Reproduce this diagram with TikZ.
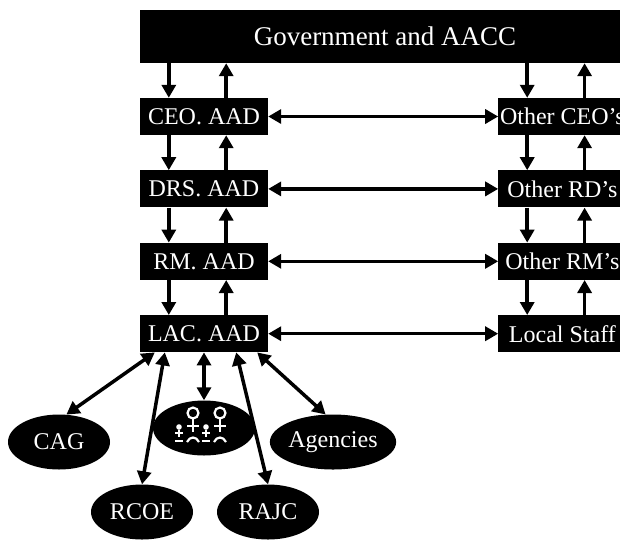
\documentclass[tikz,border=0pt]{standalone}
\usepackage{fontspec}
\setmainfont{Liberation Serif}
\usetikzlibrary{arrows.meta,positioning,shapes.geometric}

\tikzset{
  box/.style={fill=black,text=white,minimum width=128pt,minimum height=37pt,inner sep=0pt,font=\fontsize{24}{26}\selectfont},
  blob/.style={ellipse,fill=black,text=white,minimum width=102pt,minimum height=55pt,inner sep=0pt,font=\fontsize{24}{26}\selectfont},
  arr/.style={line width=3.5pt,-{Triangle[width=14pt,length=13pt]}},
  dbl/.style={line width=3.5pt,{Triangle[width=14pt,length=13pt]}-{Triangle[width=14pt,length=13pt]}}
}

\begin{document}
\begin{tikzpicture}[x=1pt,y=-1pt,node distance=35pt]
   \useasboundingbox (0,0) rectangle (620,539);
   \node[box,minimum width=490pt,minimum height=53pt,font=\fontsize{27}{30}\selectfont] (gov) at (385,36.5) {Government and AACC};
   \node[box] (ceo) at (204,116.5) {CEO. AAD};
   \node[box] (drs) [below=of ceo] {DRS. AAD};
   \node[box] (rm)  [below=of drs] {RM. AAD};
   \node[box] (lac) [below=of rm]  {LAC. AAD};
   \node[box] (oceo)  [right=230pt of ceo] {Other CEO’s};
   \node[box] (ord)   [right=230pt of drs] {Other RD’s};
   \node[box] (orm)   [right=230pt of rm]  {Other RM’s};
   \node[box] (staff) [right=230pt of lac] {Local Staff};
   % bottom row
   \node[blob] (cag)  at (59,442)  {CAG};
   \node[blob] (kids) at (204,428) {};
   \node[blob] (agc)  at (333,442) {Agencies};
   \node[blob] (rcoe) at (142,512) {RCOE};
   \node[blob] (rajc) at (268,512) {RAJC};
   % up and down the two columns
   \foreach \c in {ceo,oceo} {
     \draw[arr] ([xshift=29pt]\c.north west |- gov.south) -- ([xshift=29pt]\c.north west);
     \draw[arr] ([xshift=-42pt]\c.north east) -- ([xshift=-42pt]\c.north east |- gov.south);
   }
   \foreach \a/\b in {ceo/drs,drs/rm,rm/lac,oceo/ord,ord/orm,orm/staff} {
     \draw[arr] ([xshift=29pt]\a.south west) -- ([xshift=29pt]\b.north west);
     \draw[arr] ([xshift=-42pt]\b.north east) -- ([xshift=-42pt]\a.south east);
   }
    \path[dbl]
    (ceo) edge (oceo)
    (drs) edge (ord)
    (rm)  edge (orm)
    (lac) edge (staff);
   \draw[dbl] ([xshift=15pt]lac.south west) -- (cag.75);
   \draw[dbl] ([xshift=25pt]lac.south west) -- (rcoe.north);
   \draw[dbl] (lac.south) -- (kids.north);
   \draw[dbl] ([xshift=-32pt]lac.south east) -- (rajc.north);
   \draw[dbl] ([xshift=-11pt]lac.south east) -- (agc.105);
   % the family sign
   \begin{scope}[shift={(kids.center)},white,line width=2.2pt]
     \foreach \dx in {0,27} {
       \draw (-11+\dx,-15) circle (5.5);
       \draw (-11+\dx,-9.5) -- (-11+\dx,4) (-17+\dx,-2) -- (-5+\dx,-2);
       \draw (-17+\dx,14) .. controls (-14+\dx,8) and (-8+\dx,8) .. (-5+\dx,14);
       \fill (-25+\dx,-1) circle (2.8);
       \draw (-25+\dx,2) -- (-25+\dx,9) (-29+\dx,5) -- (-21+\dx,5) (-29+\dx,13) -- (-21+\dx,13);
     }
   \end{scope}
\end{tikzpicture}
\end{document}
